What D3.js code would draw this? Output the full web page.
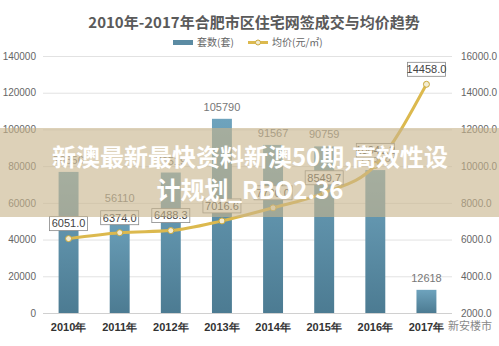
<!DOCTYPE html>
<html><head><meta charset="utf-8">
<script src="https://cdn.jsdelivr.net/npm/d3@7"></script>
<style>
html,body{margin:0;padding:0;background:#fff;}
svg{display:block;font-family:"Noto Sans CJK SC","Noto Sans",sans-serif;}
</style></head><body>
<svg id="c" width="499" height="346"></svg>
<script>
const years = ["2010年","2011年","2012年","2013年","2014年","2015年","2016年","2017年"];
const units = [76856, 56110, 76519, 105790, 91567, 90759, 77856, 12618];
const prices = [6051.0, 6374.0, 6488.3, 7016.6, 7730.0, 8549.7, 10041.2, 14458.0];
const leftTicks = [0,20000,40000,60000,80000,100000,120000,140000];
const rightTicks = [2000,4000,6000,8000,10000,12000,14000,16000];
const title = "2010年-2017年合肥市区住宅网签成交与均价趋势";
const legendNames = ["套数(套)","均价(元/㎡)"];
const overlayLines = ["新澳最新最快资料新澳50期,高效性设","计规划_RBO2.36"];

(function(){
const svg = d3.select("#c");
const W=499,H=346;
const pL=43,pR=452,pT=56,pB=313;

const defs = svg.append("defs");
const g = defs.append("linearGradient").attr("id","bg").attr("x1",0).attr("x2",0).attr("y1",0).attr("y2",1);
g.append("stop").attr("offset","0%").attr("stop-color","#6ea3bd");
g.append("stop").attr("offset","100%").attr("stop-color","#4c7b92");

const x = d3.scaleBand().domain(years).range([pL,pR]).paddingInner(0.61).paddingOuter(0.305);
const yL = d3.scaleLinear().domain([0,140000]).range([pB,pT]);
const yR = d3.scaleLinear().domain([2000,16000]).range([pB,pT]);

// gridlines
svg.append("g").selectAll("line").data(leftTicks).join("line")
  .attr("x1",pL).attr("x2",pR).attr("y1",d=>yL(d)+0.5).attr("y2",d=>yL(d)+0.5)
  .attr("stroke",d=>d===0?"#d0d0d0":"#e2e2e2").attr("stroke-width",1);

// left axis
const axL = svg.append("g").attr("transform",`translate(${pL-4},0)`)
  .call(d3.axisLeft(yL).tickValues(leftTicks).tickSize(0).tickFormat(d3.format("d")));
axL.select(".domain").remove();
axL.selectAll("text").attr("fill","#666").attr("font-size",10).attr("font-family","Liberation Sans, Arial, sans-serif");

const axR = svg.append("g").attr("transform",`translate(${pR+6},0)`)
  .call(d3.axisRight(yR).tickValues(rightTicks).tickSize(0).tickFormat(d3.format(".1f")));
axR.select(".domain").remove();
axR.selectAll("text").attr("fill","#666").attr("font-size",10).attr("font-family","Liberation Sans, Arial, sans-serif");

// x axis labels
const axB = svg.append("g").attr("transform",`translate(0,${pB+7})`)
  .call(d3.axisBottom(x).tickSize(0));
axB.select(".domain").remove();
axB.selectAll("text").attr("fill","#333").attr("font-size",11).attr("font-weight","bold");

// bars
svg.append("g").selectAll("rect").data(units).join("rect")
  .attr("x",(d,i)=>x(years[i])).attr("width",x.bandwidth())
  .attr("y",d=>yL(d)).attr("height",d=>pB-yL(d))
  .attr("fill","url(#bg)");

svg.append("g").selectAll("text").data(units).join("text")
  .attr("x",(d,i)=>x(years[i])+x.bandwidth()/2).attr("y",d=>yL(d)-8)
  .attr("text-anchor","middle").attr("font-size",11).attr("fill","#777")
  .attr("font-family","Liberation Sans, Arial, sans-serif")
  .text(d=>d);

// line
const cx = (i)=>x(years[i])+x.bandwidth()/2;
const line = d3.line().x((d,i)=>cx(i)).y(d=>yR(d)).curve(d3.curveMonotoneX);
svg.append("path").datum(prices).attr("d",line).attr("fill","none")
  .attr("stroke","#dcb94e").attr("stroke-width",3);
svg.append("g").selectAll("circle").data(prices).join("circle")
  .attr("cx",(d,i)=>cx(i)).attr("cy",d=>yR(d)).attr("r",3)
  .attr("fill","#f3ecd2").attr("stroke","#c9a83c").attr("stroke-width",1);

// price labels
const pl = svg.append("g").selectAll("g").data(prices).join("g")
  .attr("transform",(d,i)=>`translate(${cx(i)},${yR(d)-15})`);
pl.append("rect").attr("x",-19).attr("y",-7).attr("width",38).attr("height",14)
  .attr("fill","#fff").attr("stroke","#888").attr("stroke-width",0.8);
pl.append("text").attr("text-anchor","middle").attr("dy","0.35em").attr("font-size",11)
  .attr("fill","#444").attr("font-family","Liberation Sans, Arial, sans-serif")
  .text(d=>d.toFixed(1));

// title
svg.append("text").attr("x",254).attr("y",28).attr("text-anchor","middle")
  .attr("font-size",15).attr("font-weight","bold").attr("fill","#5a5a5a").text(title);

// legend
const lg = svg.append("g");
lg.append("rect").attr("x",173).attr("y",40).attr("width",20).attr("height",5).attr("fill","#5b8ba3");
lg.append("text").attr("x",197).attr("y",46).attr("font-size",10).attr("fill","#666").text(legendNames[0]);
lg.append("line").attr("x1",248).attr("x2",268).attr("y1",42.5).attr("y2",42.5).attr("stroke","#dcb94e").attr("stroke-width",3);
lg.append("circle").attr("cx",258).attr("cy",42.5).attr("r",2.5).attr("fill","#f3ecd2").attr("stroke","#c9a83c");
lg.append("text").attr("x",272).attr("y",46).attr("font-size",10).attr("fill","#666").text(legendNames[1]);

// overlay band
svg.append("rect").attr("x",0).attr("y",128).attr("width",W).attr("height",89)
  .attr("fill","rgb(200,180,140)").attr("opacity",0.62);
svg.append("g").selectAll("text").data(overlayLines).join("text")
  .attr("x",250).attr("y",(d,i)=>166+i*33).attr("text-anchor","middle")
  .attr("font-size",24).attr("font-weight","bold").attr("fill","#fff")
  .text(d=>d);

// bottom watermark
svg.append("text").attr("x",492).attr("y",330).attr("text-anchor","end")
  .attr("font-size",11).attr("fill","#888").text("新安楼市");
})();
</script>
</body></html>
